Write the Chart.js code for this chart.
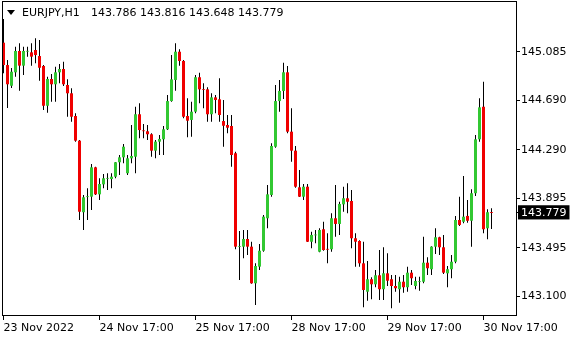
<!DOCTYPE html>
<html><head><meta charset="utf-8">
<script src="https://cdn.jsdelivr.net/npm/chart.js@4/dist/chart.umd.min.js"></script>
<style>
html,body{margin:0;padding:0;background:#fff;}
#wrap{position:relative;width:580px;height:340px;background:#fff;}
canvas{display:block;}
.txt{position:absolute;top:6px;font-family:"DejaVu Sans";font-size:11px;line-height:13px;color:#000;white-space:pre;}
#tri{position:absolute;left:7px;top:10px;width:0;height:0;border-left:4px solid transparent;border-right:4px solid transparent;border-top:5px solid #000;}
</style></head>
<body><div id="wrap"><canvas id="c" width="580" height="340"></canvas><div id="tri"></div><div id="sym" class="txt" style="left:22px"></div><div id="ohlc" class="txt" style="left:91px"></div></div>
<script>
const symbolName = 'EURJPY,H1';
const opens = [145.158,144.977,144.809,144.918,145.091,144.972,145.086,145.080,145.099,145.050,
144.969,144.647,144.864,144.821,144.918,144.945,144.815,144.748,144.564,144.364,
143.784,143.907,143.910,144.148,143.929,144.010,144.056,144.053,144.072,144.189,
144.229,144.100,144.221,144.234,144.578,144.447,144.440,144.416,144.283,144.356,
144.375,144.456,144.685,144.856,145.085,145.010,144.564,144.532,144.599,144.878,
144.783,144.780,144.578,144.715,144.699,144.523,144.491,144.483,144.262,143.502,
143.505,143.567,143.505,143.208,143.343,143.472,143.735,143.924,144.315,144.685,
144.767,144.918,144.437,144.283,143.986,143.910,143.991,143.545,143.597,143.464,
143.646,143.487,143.484,143.735,143.689,143.848,143.897,143.875,143.573,143.551,
143.370,143.140,143.241,143.200,143.273,143.160,143.289,143.241,143.186,143.160,
143.221,143.176,143.294,143.186,143.218,143.221,143.375,143.322,143.505,143.581,
143.500,143.289,143.322,143.383,143.721,143.707,143.754,143.715,143.938,144.375,
144.639,143.654,143.786];
const highs = [145.350,145.018,144.953,145.126,145.153,145.126,145.126,145.153,145.194,145.180,
144.977,144.882,144.904,144.963,144.985,145.004,144.861,144.788,144.586,144.369,
143.924,143.978,144.175,144.153,144.059,144.094,144.100,144.100,144.191,144.248,
144.337,144.248,144.491,144.639,144.667,144.499,144.491,144.424,144.369,144.410,
144.483,144.734,145.058,145.153,145.104,145.018,144.707,144.680,144.896,144.915,
144.829,144.797,144.748,144.734,144.869,144.694,144.572,144.572,144.275,143.632,
143.640,143.640,143.545,143.370,143.527,143.762,144.005,144.343,144.815,144.856,
144.996,144.969,144.626,144.321,144.126,144.013,144.013,143.626,143.640,143.654,
143.707,143.613,143.775,144.005,143.869,143.991,144.019,143.964,143.613,143.556,
143.545,143.389,143.257,143.316,143.478,143.500,143.451,143.275,143.275,143.262,
143.275,143.343,143.316,143.262,143.262,143.586,143.419,143.508,143.654,143.585,
143.600,143.348,143.437,143.754,143.910,144.078,143.883,143.970,144.410,144.707,
144.842,143.808,143.816];
const lows = [144.910,144.629,144.791,144.882,144.769,144.896,145.045,144.972,144.991,144.850,
144.613,144.591,144.680,144.680,144.829,144.807,144.558,144.518,144.356,143.721,
143.640,143.721,143.802,143.924,143.883,143.978,143.964,143.978,144.059,144.086,
144.181,144.086,144.181,144.100,144.383,144.383,144.369,144.234,144.221,144.248,
144.248,144.450,144.680,144.769,144.972,144.545,144.391,144.396,144.586,144.667,
144.626,144.518,144.518,144.586,144.518,144.315,144.424,144.153,143.484,143.235,
143.411,143.437,143.205,143.032,143.316,143.464,143.654,143.910,144.307,144.599,
144.702,144.424,144.194,143.983,143.908,143.883,143.543,143.492,143.532,143.459,
143.472,143.370,143.464,143.586,143.600,143.788,143.775,143.492,143.343,143.343,
143.014,143.067,143.078,143.176,143.073,143.073,143.186,143.006,143.140,143.051,
143.132,143.140,143.194,143.159,143.148,143.208,143.275,143.275,143.446,143.437,
143.284,143.176,143.249,143.370,143.672,143.694,143.699,143.505,143.916,144.356,
143.613,143.565,143.648];
const closes = [144.977,144.821,144.923,145.091,144.972,145.091,145.092,145.045,145.058,144.955,
144.647,144.864,144.821,144.918,144.945,144.821,144.748,144.558,144.364,143.788,
143.905,143.913,144.148,143.929,144.013,144.059,144.062,144.072,144.189,144.229,
144.315,144.221,144.240,144.578,144.450,144.441,144.416,144.283,144.356,144.378,
144.456,144.685,144.861,145.085,145.010,144.558,144.526,144.599,144.878,144.780,
144.777,144.578,144.715,144.694,144.572,144.485,144.469,144.248,143.505,143.508,
143.567,143.505,143.208,143.348,143.472,143.748,143.929,144.321,144.685,144.767,
144.918,144.437,144.283,143.991,143.910,143.991,143.545,143.600,143.603,143.640,
143.478,143.481,143.735,143.689,143.851,143.897,143.869,143.573,143.545,143.370,
143.154,143.241,143.200,143.273,143.160,143.289,143.229,143.186,143.168,143.221,
143.176,143.294,143.249,143.227,143.224,143.375,143.330,143.505,143.581,143.500,
143.294,143.322,143.383,143.721,143.681,143.748,143.715,143.938,144.375,144.634,
143.646,143.784,143.779];
const xTickBars = [0, 24, 48, 72, 96, 120];
const xTickLabels = ['23 Nov 2022', '24 Nov 17:00', '25 Nov 17:00', '28 Nov 17:00', '29 Nov 17:00', '30 Nov 17:00'];
const yTickValues = [143.100, 143.495, 143.895, 144.290, 144.690, 145.085];
const lastPrice = closes[closes.length - 1];

const BULL = '#32c832', BEAR = '#f00000';
const FONT = {family: 'DejaVu Sans', size: 11};
const last = closes.length - 1;
document.getElementById('sym').textContent = symbolName;
document.getElementById('ohlc').textContent = [opens[last], highs[last], lows[last], closes[last]].map(v => v.toFixed(3)).join(' ');

const idx = closes.map((_, i) => i);
const bodyData = idx.map(i => ({x: i, y: [opens[i], closes[i]]}));
const wickData = idx.map(i => ({x: i, y: [lows[i], highs[i]]}));
const bodyColors = idx.map(i => closes[i] >= opens[i] ? BULL : BEAR);

const framePlugin = {
  id: 'frame',
  afterDraw(chart) {
    const {ctx, chartArea: a} = chart;
    ctx.save();
    ctx.strokeStyle = '#000';
    ctx.lineWidth = 1;
    ctx.strokeRect(Math.round(a.left) + 0.5, Math.round(a.top) + 0.5,
      Math.round(a.right - a.left) - 1, Math.round(a.bottom - a.top) - 1);
    ctx.restore();
  }
};

new Chart(document.getElementById('c'), {
  type: 'bar',
  data: {
    datasets: [
      {label: 'body', data: bodyData, backgroundColor: bodyColors, borderWidth: 0,
       barThickness: 3, grouped: false, order: 0, inflateAmount: 0},
      {label: 'wick', data: wickData, backgroundColor: '#000', borderWidth: 0, barThickness: 1,
       grouped: false, order: 1, inflateAmount: 0}
    ]
  },
  options: {
    responsive: false, animation: false, devicePixelRatio: 1,
    layout: {padding: {left: 2, top: 1, right: 0, bottom: 0}},
    plugins: {legend: {display: false}, tooltip: {enabled: false}, title: {display: false}},
    scales: {
      x: {
        type: 'linear', offset: false, min: -0.375, max: 128.375, position: 'bottom',
        afterBuildTicks: s => { s.ticks = xTickBars.map(v => ({value: v})); },
        afterFit: s => { s.height = 24; s.paddingLeft = 0; s.paddingRight = 0; },
        ticks: {autoSkip: false, maxRotation: 0, minRotation: 0, align: 'start', padding: 2,
          color: '#000', font: FONT, callback: (v, i) => xTickLabels[i]},
        grid: {offset: false, drawOnChartArea: false, drawTicks: true, tickLength: 4, color: '#000', lineWidth: 1},
        border: {display: false}
      },
      y: {
        type: 'linear', position: 'right', min: 142.943, max: 145.496,
        afterBuildTicks: s => { s.ticks = yTickValues.concat([lastPrice]).sort((a, b) => a - b).map(v => ({value: v})); },
        afterFit: s => { s.width = 63; s.paddingTop = 0; s.paddingBottom = 0; },
        ticks: {autoSkip: false, padding: 1, font: FONT,
          color: c => (c.tick && c.tick.value === lastPrice) ? '#fff' : '#000',
          showLabelBackdrop: c => !!(c.tick && c.tick.value === lastPrice),
          backdropColor: '#000',
          backdropPadding: {left: 3, right: 3, top: 1, bottom: 0},
          callback: v => Number(v).toFixed(3)},
        grid: {offset: false, drawOnChartArea: false, drawTicks: true, tickLength: 3, color: '#000', lineWidth: 1},
        border: {display: false}
      }
    }
  },
  plugins: [framePlugin]
});
</script>
</body></html>
